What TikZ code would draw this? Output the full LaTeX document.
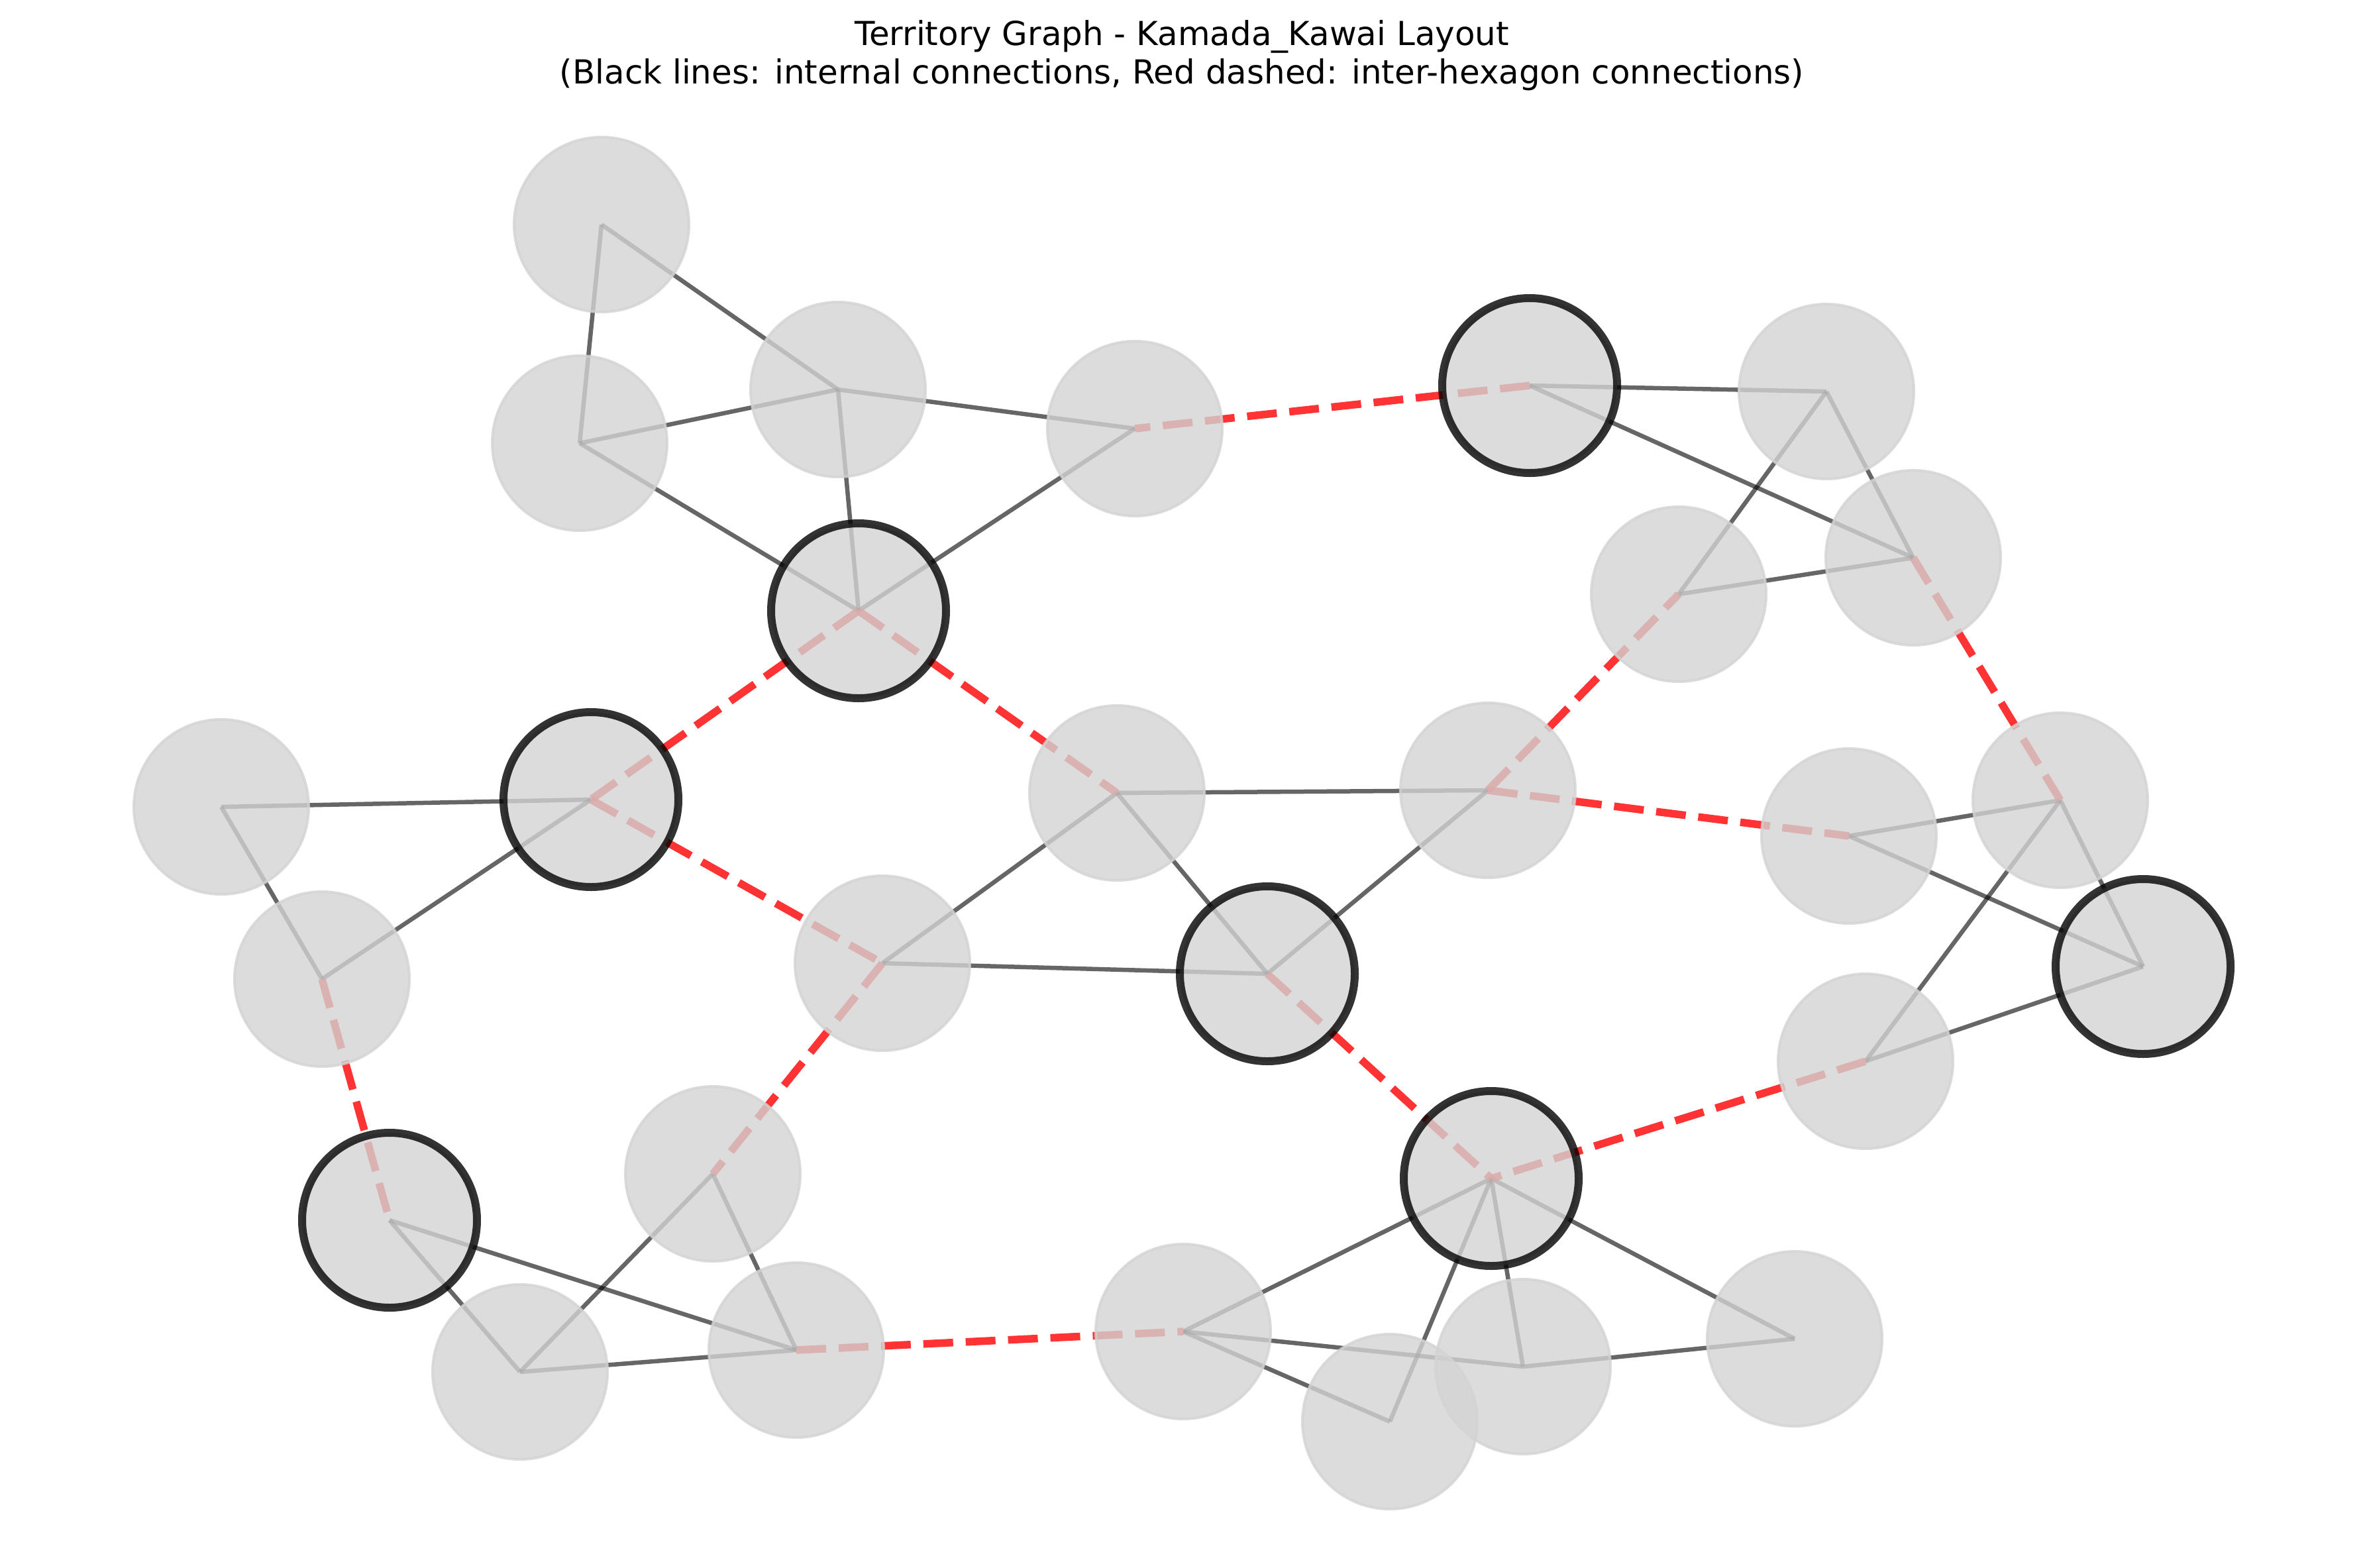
\documentclass[tikz,border=0pt]{standalone}
\usepackage{fontspec}
\setmainfont{DejaVu Sans}
\usepackage{tikz}
\usetikzlibrary{backgrounds}
\definecolor{tgGray}{RGB}{211, 211, 211}
\definecolor{tgRed}{RGB}{255, 0, 0}
\tikzset{
    base/.style={
        inner sep=0pt,
        outer sep=0pt
    },
    territory/.style={
        base,
        circle,
        minimum size=2.64cm,
        fill=tgGray,
        draw=tgGray,
        line width=0.04cm,
        opacity=0.8
    },
    hub/.style={
        territory,
        draw=black,
        line width=0.12cm
    },
    internal/.style={
        line width=0.065cm,
        color=black,
        opacity=0.6
    },
    interlink/.style={
        line width=0.115cm,
        color=tgRed,
        opacity=0.8,
        dash pattern=on 0.45cm off 0.19cm
    },
    heading/.style={
        font=\fontsize{14.2}{16.6}\selectfont,
        inner sep=0pt,
        anchor=base
    }
}

\begin{document}
\begin{tikzpicture}
    \useasboundingbox (0,0) rectangle (35.70,-23.67);

    % Title
    \node[heading] (title) at (17.84,-0.683) {Territory Graph - Kamada\_Kawai Layout};
    \node[heading] (subtitle) at (17.84,-1.267) {(Black lines: internal connections, Red dashed: inter-hexagon connections)};

    % Territories
    \node[territory] (A1) at (9.08,-3.39) {};
    \node[territory] (A2) at (8.75,-6.69) {};
    \node[territory] (A3) at (12.65,-5.88) {};
    \node[territory] (A4) at (17.13,-6.47) {};
    \node[hub] (A5) at (12.96,-9.22) {};

    \node[hub] (B1) at (23.09,-5.82) {};
    \node[territory] (B2) at (27.57,-5.91) {};
    \node[territory] (B3) at (28.88,-8.42) {};
    \node[territory] (B4) at (25.34,-8.97) {};

    \node[territory] (C1) at (3.34,-12.18) {};
    \node[hub] (C2) at (8.92,-12.07) {};
    \node[territory] (C3) at (4.86,-14.78) {};

    \node[territory] (D1) at (16.86,-11.97) {};
    \node[territory] (D2) at (13.32,-14.54) {};
    \node[hub] (D3) at (19.13,-14.70) {};
    \node[territory] (D4) at (22.46,-11.93) {};

    \node[territory] (E1) at (27.91,-12.62) {};
    \node[territory] (E2) at (31.10,-12.08) {};
    \node[hub] (E3) at (32.35,-14.59) {};
    \node[territory] (E4) at (28.16,-16.02) {};

    \node[hub] (F1) at (5.88,-18.42) {};
    \node[territory] (F2) at (10.76,-17.72) {};
    \node[territory] (F3) at (7.85,-20.71) {};
    \node[territory] (F4) at (12.02,-20.38) {};

    \node[territory] (G1) at (17.86,-20.10) {};
    \node[hub] (G2) at (22.51,-17.79) {};
    \node[territory] (G3) at (20.98,-21.46) {};
    \node[territory] (G4) at (22.99,-20.63) {};
    \node[territory] (G5) at (27.09,-20.21) {};

    \begin{scope}[on background layer]
        % Internal connections
        \draw[internal] (A1.center) -- (A2.center);
        \draw[internal] (A1.center) -- (A3.center);
        \draw[internal] (A2.center) -- (A3.center);
        \draw[internal] (A2.center) -- (A5.center);
        \draw[internal] (A3.center) -- (A4.center);
        \draw[internal] (A3.center) -- (A5.center);
        \draw[internal] (A4.center) -- (A5.center);

        \draw[internal] (B1.center) -- (B2.center);
        \draw[internal] (B1.center) -- (B3.center);
        \draw[internal] (B2.center) -- (B3.center);
        \draw[internal] (B2.center) -- (B4.center);
        \draw[internal] (B4.center) -- (B3.center);

        \draw[internal] (C1.center) -- (C2.center);
        \draw[internal] (C1.center) -- (C3.center);
        \draw[internal] (C3.center) -- (C2.center);

        \draw[internal] (D1.center) -- (D4.center);
        \draw[internal] (D1.center) -- (D3.center);
        \draw[internal] (D1.center) -- (D2.center);
        \draw[internal] (D2.center) -- (D3.center);
        \draw[internal] (D3.center) -- (D4.center);

        \draw[internal] (E1.center) -- (E2.center);
        \draw[internal] (E1.center) -- (E3.center);
        \draw[internal] (E2.center) -- (E3.center);
        \draw[internal] (E2.center) -- (E4.center);
        \draw[internal] (E4.center) -- (E3.center);

        \draw[internal] (F1.center) -- (F3.center);
        \draw[internal] (F1.center) -- (F4.center);
        \draw[internal] (F3.center) -- (F4.center);
        \draw[internal] (F3.center) -- (F2.center);
        \draw[internal] (F2.center) -- (F4.center);

        \draw[internal] (G1.center) -- (G2.center);
        \draw[internal] (G1.center) -- (G3.center);
        \draw[internal] (G1.center) -- (G4.center);
        \draw[internal] (G2.center) -- (G3.center);
        \draw[internal] (G2.center) -- (G4.center);
        \draw[internal] (G2.center) -- (G5.center);
        \draw[internal] (G4.center) -- (G5.center);

        % Inter-hexagon connections
        \draw[interlink] (B1.center) -- (A4.center);
        \draw[interlink] (A5.center) -- (C2.center);
        \draw[interlink] (A5.center) -- (D1.center);
        \draw[interlink] (C2.center) -- (D2.center);
        \draw[interlink] (C3.center) -- (F1.center);
        \draw[interlink] (D2.center) -- (F2.center);
        \draw[interlink] (F4.center) -- (G1.center);
        \draw[interlink] (D3.center) -- (G2.center);
        \draw[interlink] (E4.center) -- (G2.center);
        \draw[interlink] (D4.center) -- (B4.center);
        \draw[interlink] (D4.center) -- (E1.center);
        \draw[interlink] (B3.center) -- (E2.center);
    \end{scope}

\end{tikzpicture}
\end{document}
